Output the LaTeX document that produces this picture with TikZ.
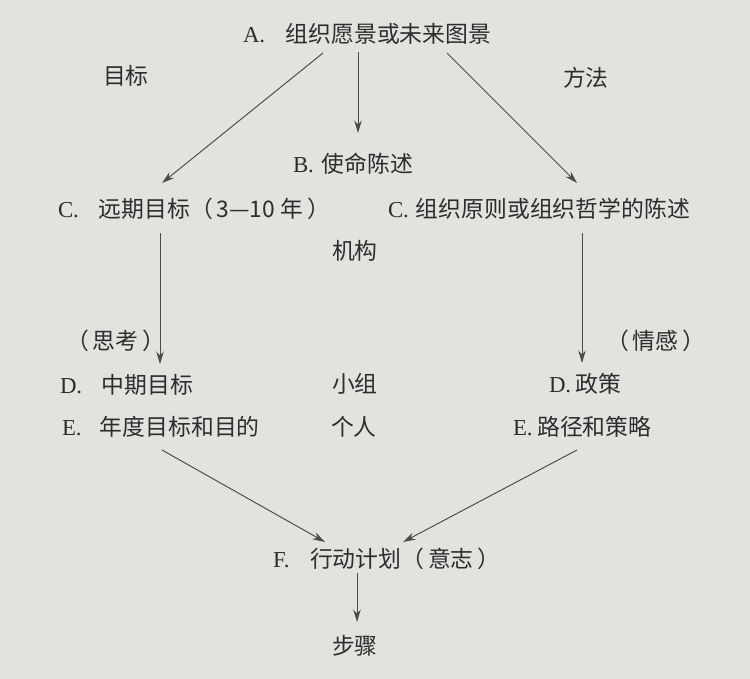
\documentclass[tikz,border=0pt]{standalone}
\usepackage{fontspec}
\setmainfont{Liberation Serif}
\newfontfamily\cjk{Noto Sans CJK SC}
\usetikzlibrary{arrows.meta,calc}
\definecolor{paper}{RGB}{226,226,223}
\definecolor{ink}{RGB}{45,45,45}
\definecolor{wire}{RGB}{75,75,75}
\tikzset{
  lbl/.style={anchor=west, inner sep=0pt, outer sep=0pt, text height=0.8em, text depth=0.05em,
    font=\fontsize{13pt}{15pt}\selectfont, text=ink},
  arr/.style={draw=wire, line width=0.55pt, -{Stealth[length=0.25cm,width=0.15cm,inset=0.08cm]}}
}
\begin{document}
\begin{tikzpicture}[x=0.02cm,y=-0.02cm]
\fill[paper] (0,0) rectangle (750,679);
\useasboundingbox (0,0) rectangle (750,679);
% nodes
\node[lbl] (A)  at (243,36)  {A.\hspace{0.9em}\cjk 组织愿景或未来图景};
\node[lbl] (G)  at (103,78)  {\cjk 目标};
\node[lbl] (M)  at (563,80)  {\cjk 方法};
\node[lbl] (B)  at (293,166) {B.\hspace{0.35em}\cjk 使命陈述};
\node[lbl] (C1) at (58,211)  {C.\hspace{0.87em}\cjk 远期目标（\,3—10 年\,）};
\node[lbl] (C2) at (388,211) {C.\hspace{0.3em}\cjk 组织原则或组织哲学的陈述};
\node[lbl] (J)  at (332,253) {\cjk 机构};
\node[lbl] (T)  at (66,343)  {\cjk （\,思考\,）};
\node[lbl] (Q)  at (606,343) {\cjk （\,情感\,）};
\node[lbl] (D1) at (60,387)  {D.\hspace{0.85em}\cjk 中期目标};
\node[lbl] (X)  at (332,386) {\cjk 小组};
\node[lbl] (D2) at (549,386) {D.\hspace{0.2em}\cjk 政策};
\node[lbl] (E1) at (62,429)  {E.\hspace{0.8em}\cjk 年度目标和目的};
\node[lbl] (P)  at (331,429) {\cjk 个人};
\node[lbl] (E2) at (513,429) {E.\hspace{0.2em}\cjk 路径和策略};
\node[lbl] (F)  at (273,561) {F.\hspace{0.9em}\cjk 行动计划（\,意志\,）};
\node[lbl] (S)  at (332,648) {\cjk 步骤};
% connectors
\draw[arr] ($(A.center -| 323,0)+(0,17)$) -- ($(C1.center -| 162,0)+(0,-28)$);
\draw[arr] ($(A.center -| 358,0)+(0,16)$) -- ($(B.center -| 358,0)+(0,-33)$);
\draw[arr] ($(A.center -| 447,0)+(0,17)$) -- ($(C2.center -| 577,0)+(0,-28)$);
\draw[arr] ($(C1.center -| 160,0)+(0,22)$) -- ($(D1.center -| 160,0)+(0,-23)$);
\draw[arr] ($(C2.center -| 582,0)+(0,22)$) -- ($(D2.center -| 582,0)+(0,-23)$);
\draw[arr] ($(E1.center -| 162,0)+(0,21)$) -- ($(F.center -| 325,0)+(0,-19)$);
\draw[arr] ($(E2.center -| 577,0)+(0,21)$) -- ($(F.center -| 403,0)+(0,-19)$);
\draw[arr] ($(F.center -| 357,0)+(0,12)$) -- ($(S.center -| 357,0)+(0,-26)$);
\end{tikzpicture}
\end{document}
